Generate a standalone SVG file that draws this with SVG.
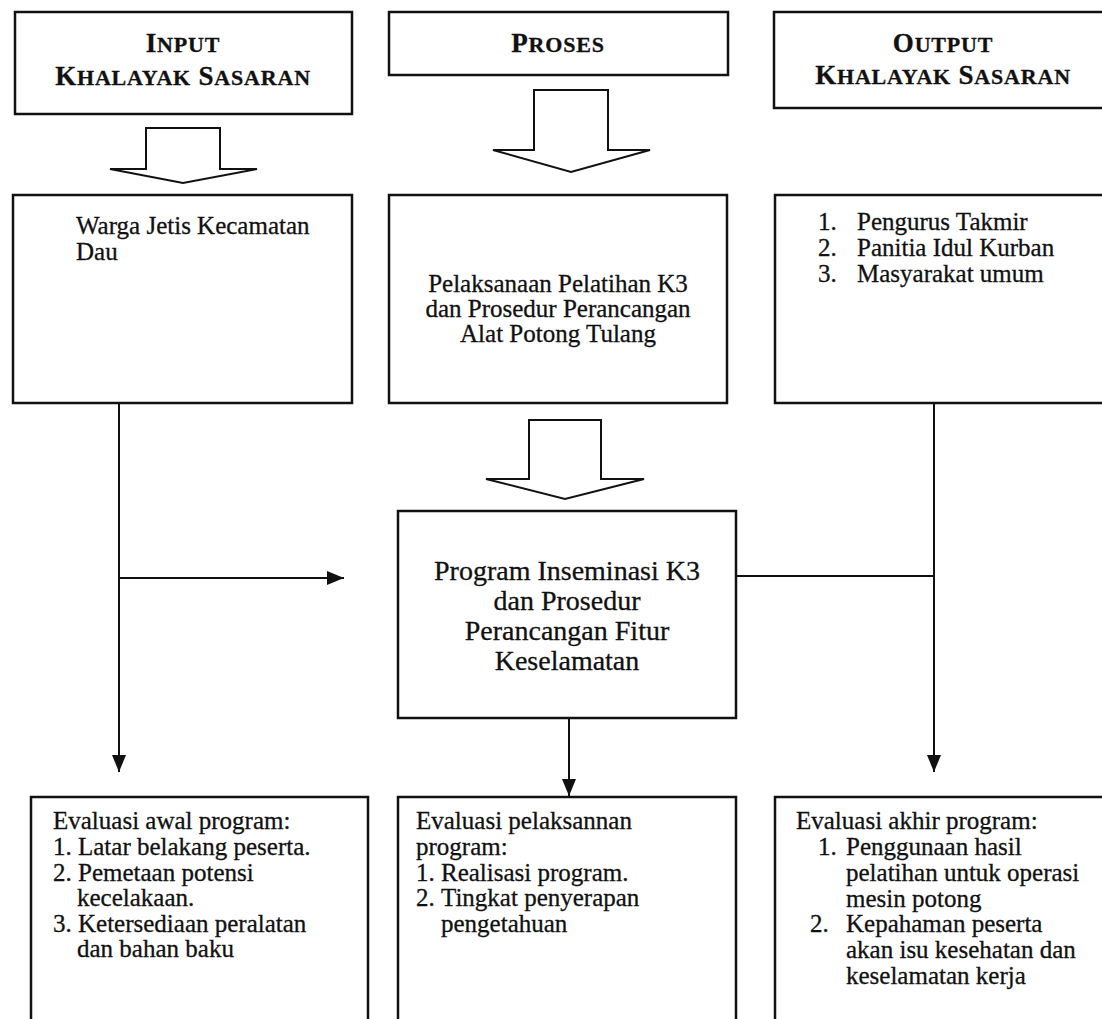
<svg xmlns="http://www.w3.org/2000/svg" width="1102" height="1019" viewBox="0 0 1102 1019">
<style>
.box{fill:#fff;stroke:#111;stroke-width:2.5}
.blk{fill:#fff;stroke:#111;stroke-width:2;stroke-linejoin:miter}
.ln{fill:none;stroke:#111;stroke-width:2}
text{font-family:"Liberation Serif","Times New Roman",serif;fill:#111;stroke:#111;stroke-width:0.3}
.t{font-size:25px}
.tp{font-size:28px}
.h{font-weight:bold;font-size:27px;letter-spacing:0.8px}
.sc{font-size:22px}
.c{text-anchor:middle}
</style>
<defs>
<marker id="ah" markerUnits="userSpaceOnUse" markerWidth="18" markerHeight="14" refX="17" refY="7" orient="auto">
<path d="M0,0 L17,7 L0,14 z" fill="#111"/>
</marker>
</defs>
<rect width="1102" height="1019" fill="#fff"/>

<g id="hdr-input">
<rect class="box" x="15" y="12" width="337" height="102"/>
<text class="h c" x="183" y="52">I<tspan class="sc">NPUT</tspan></text>
<text class="h c" x="183" y="85">K<tspan class="sc">HALAYAK</tspan> S<tspan class="sc">ASARAN</tspan></text>
</g>
<g id="hdr-proses">
<rect class="box" x="389" y="12" width="339" height="63"/>
<text class="h c" x="558" y="52">P<tspan class="sc">ROSES</tspan></text>
</g>
<g id="hdr-output">
<rect class="box" x="774" y="12" width="340" height="96"/>
<text class="h c" x="943" y="52">O<tspan class="sc">UTPUT</tspan></text>
<text class="h c" x="943" y="84">K<tspan class="sc">HALAYAK</tspan> S<tspan class="sc">ASARAN</tspan></text>
</g>

<g id="blockarrow-1"><polygon class="blk" points="110,169 146,169 146,128 220,128 220,169 257,169 183,183"/></g>
<g id="blockarrow-2"><polygon class="blk" points="493,150 534,150 534,90 608,90 608,150 650,150 571,172"/></g>
<g id="blockarrow-3"><polygon class="blk" points="486,479 529,479 529,420 601,420 601,479 644,479 565,499"/></g>

<g id="box-warga">
<rect class="box" x="13" y="195" width="339" height="208"/>
<text class="t" x="76" y="234">Warga Jetis Kecamatan</text>
<text class="t" x="76" y="260">Dau</text>
</g>
<g id="box-pelaksanaan">
<rect class="box" x="389" y="195" width="338" height="208"/>
<text class="t c" x="558" y="292">Pelaksanaan Pelatihan K3</text>
<text class="t c" x="558" y="317">dan Prosedur Perancangan</text>
<text class="t c" x="558" y="342">Alat Potong Tulang</text>
</g>
<g id="box-sasaran">
<rect class="box" x="775" y="195" width="340" height="208"/>
<text class="t" x="818" y="230">1.</text><text class="t" x="857" y="230">Pengurus Takmir</text>
<text class="t" x="818" y="256">2.</text><text class="t" x="857" y="256">Panitia Idul Kurban</text>
<text class="t" x="818" y="282">3.</text><text class="t" x="857" y="282">Masyarakat umum</text>
</g>

<g id="box-program">
<rect class="box" x="398" y="511" width="338" height="207"/>
<text class="tp c" x="567" y="580">Program Inseminasi K3</text>
<text class="tp c" x="567" y="610">dan Prosedur</text>
<text class="tp c" x="567" y="640">Perancangan Fitur</text>
<text class="tp c" x="567" y="670">Keselamatan</text>
</g>

<g id="box-eval-awal">
<rect class="box" x="31" y="797" width="337" height="240"/>
<text class="t" x="53" y="829">Evaluasi awal program:</text>
<text class="t" x="53" y="855">1. Latar belakang peserta.</text>
<text class="t" x="53" y="881">2. Pemetaan potensi</text>
<text class="t" x="77" y="906">kecelakaan.</text>
<text class="t" x="53" y="932">3. Ketersediaan peralatan</text>
<text class="t" x="77" y="957">dan bahan baku</text>
</g>
<g id="box-eval-pelaksanaan">
<rect class="box" x="398" y="797" width="338" height="240"/>
<text class="t" x="416" y="829">Evaluasi pelaksannan</text>
<text class="t" x="416" y="855">program:</text>
<text class="t" x="416" y="881">1.</text><text class="t" x="441" y="881">Realisasi program.</text>
<text class="t" x="416" y="906">2.</text><text class="t" x="441" y="906">Tingkat penyerapan</text>
<text class="t" x="441" y="932">pengetahuan</text>
</g>
<g id="box-eval-akhir">
<rect class="box" x="775" y="797" width="340" height="240"/>
<text class="t" x="796" y="829">Evaluasi akhir program:</text>
<text class="t" x="818" y="855">1.</text><text class="t" x="846" y="855">Penggunaan hasil</text>
<text class="t" x="846" y="881">pelatihan untuk operasi</text>
<text class="t" x="846" y="907">mesin potong</text>
<text class="t" x="810" y="932">2.</text><text class="t" x="846" y="932">Kepahaman peserta</text>
<text class="t" x="846" y="958">akan isu kesehatan dan</text>
<text class="t" x="846" y="984">keselamatan kerja</text>
</g>

<g id="connectors">
<line class="ln" x1="119" y1="403" x2="119" y2="772" marker-end="url(#ah)"/>
<line class="ln" x1="119" y1="578" x2="344" y2="578" marker-end="url(#ah)"/>
<line class="ln" x1="569" y1="718" x2="569" y2="796" marker-end="url(#ah)"/>
<line class="ln" x1="934" y1="403" x2="934" y2="772" marker-end="url(#ah)"/>
<line class="ln" x1="736" y1="576" x2="934" y2="576"/>
</g>
</svg>
